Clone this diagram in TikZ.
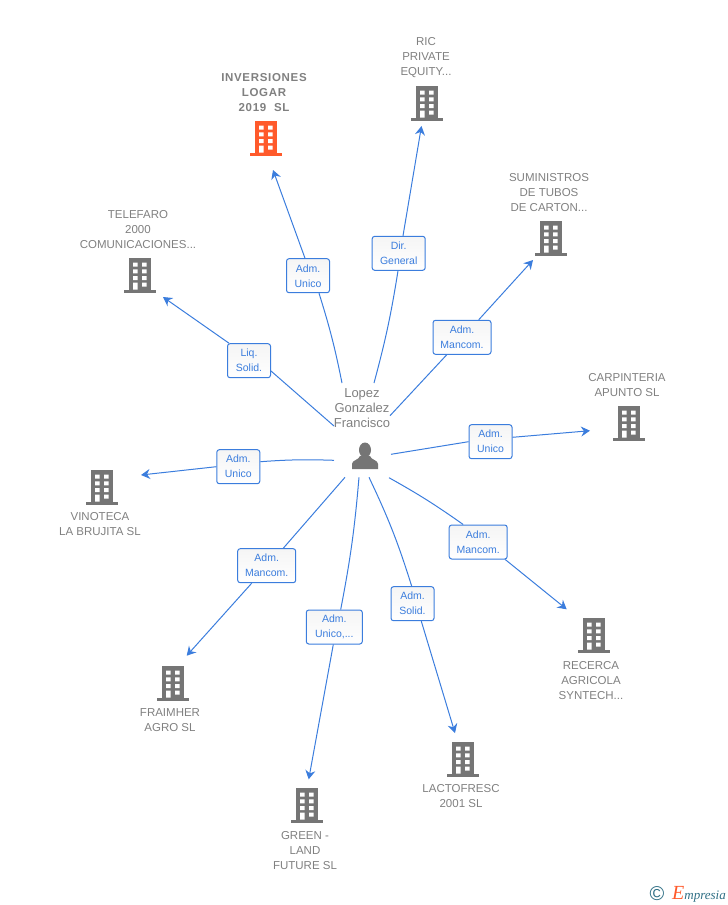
\documentclass[tikz,border=0pt]{standalone}
\usepackage{fontspec}
\setmainfont{Liberation Sans}
\newfontfamily\logofont{Liberation Serif}
\usetikzlibrary{positioning}
\usetikzlibrary{arrows.meta}
\definecolor{myblue}{HTML}{3B7DDD}
\definecolor{mygray}{HTML}{808080}
\definecolor{myicon}{HTML}{757575}
\definecolor{myorange}{HTML}{FF5A2B}
\definecolor{myteal}{HTML}{2F6F85}
\newcommand{\bldgicon}[1]{
  \begin{scope}[shift={(path picture bounding box.center)}]
    \fill[#1] (-11,-17.5) rectangle (11,15);
    \fill[#1] (-16,14.5) rectangle (16,18);
    \fill[white] (-7,-12.5) rectangle (-2.5,-8.5) (2,-12.5) rectangle (6.5,-8.5);
    \fill[white] (-7,-5.7) rectangle (-2.5,-1.7) (2,-5.7) rectangle (6.5,-1.7);
    \fill[white] (-7,1) rectangle (-2.5,5) (2,1) rectangle (6.5,5);
    \fill[white] (-7,7.5) rectangle (-2.5,14.5) (2,7.5) rectangle (6.5,11.5);
  \end{scope}
}
\newcommand{\personicon}{
  \begin{scope}[shift={(path picture bounding box.center)}]
    \fill[myicon] (0,-6) ellipse (6 and 7.5);
    \fill[myicon] (-13,13) -- (-13,8) .. controls (-13,4) and (-6,4) .. (-5,0) -- (5,0) .. controls (6,4) and (13,4) .. (13,8) -- (13,13) -- cycle;
  \end{scope}
}
\tikzset{
    mybldg/.style = {rectangle, fill=white, minimum width=33pt, minimum height=37pt, inner sep=0pt, path picture={\bldgicon{#1}}},
    myperson/.style = {rectangle, fill=white, minimum width=28pt, minimum height=28pt, inner sep=0pt, path picture={\personicon}},
    mycomp/.style = {align=center, inner sep=0pt, text=mygray, font=\fontsize{11.5}{15}\selectfont},
    myname/.style = {align=center, inner sep=0pt, text=mygray, font=\fontsize{13}{15}\selectfont},
    myrole/.style = {rectangle, rounded corners=2.5pt, draw=myblue, top color=black!4, bottom color=white, line width=1pt, align=center, inner sep=0pt, minimum height=34pt, text=myblue, font=\fontsize{10.5}{15}\selectfont},
    edgeb/.style = {-,line width=1pt,myblue},
    edgea/.style = {-{Stealth[length=9pt,width=10pt,inset=3pt]},line width=1pt,myblue}
}
\begin{document}
\begin{tikzpicture}[x=1pt,y=-1pt]
\path[use as bounding box] (0,0) rectangle (728,905);

% companies
\node[mybldg=myorange] at (266,138) (T1) {};
\node[mybldg=myicon] at (427,103) (T2) {};
\node[mybldg=myicon] at (551,238) (T3) {};
\node[mybldg=myicon] at (629,423) (T4) {};
\node[mybldg=myicon] at (594,635) (T5) {};
\node[mybldg=myicon] at (463,759) (T6) {};
\node[mybldg=myicon] at (307,805) (T7) {};
\node[mybldg=myicon] at (173,683) (T8) {};
\node[mybldg=myicon] at (102,487) (T9) {};
\node[mybldg=myicon] at (140,275) (T10) {};
%
\node[mycomp,font=\fontsize{11.5}{15}\selectfont\bfseries\addfontfeature{LetterSpace=6}] at (264,92.5) (C1) {INVERSIONES\\LOGAR\\2019\ \ SL};
\node[mycomp] at (426,58) (C2) {RIC\\PRIVATE\\EQUITY...};
\node[mycomp] at (549,193) (C3) {SUMINISTROS\\DE TUBOS\\DE CARTON...};
\node[mycomp] at (627,385.5) (C4) {CARPINTERIA\\APUNTO SL};
\node[mycomp] at (591,681) (C5) {RECERCA\\AGRICOLA\\SYNTECH...};
\node[mycomp] at (461,796) (C6) {LACTOFRESC\\2001 SL};
\node[mycomp] at (305,851) (C7) {GREEN -\\LAND\\FUTURE SL};
\node[mycomp] at (170,720.5) (C8) {FRAIMHER\\AGRO SL};
\node[mycomp] at (100,524.5) (C9) {VINOTECA\\LA BRUJITA SL};
\node[mycomp] at (138,230) (C10) {TELEFARO\\2000\\COMUNICACIONES...};

% person
\node[myperson] at (365,456) (P) {};
\node[myname] at (362,408) (N) {Lopez\\Gonzalez\\Francisco};

% roles
\node[myrole,minimum width=43pt,text depth=0pt] at (308,275.7) (R1) {Adm.\\Unico};
\node[myrole,minimum width=53pt] at (398.7,253.3) (R2) {Dir.\\General};
\node[myrole,minimum width=58pt] at (462,337.3) (R3) {Adm.\\Mancom.};
\node[myrole,minimum width=43pt] at (490.5,441.7) (R4) {Adm.\\Unico};
\node[myrole,minimum width=58pt] at (478.2,542) (R5) {Adm.\\Mancom.};
\node[myrole,minimum width=43pt] at (412.5,603.7) (R6) {Adm.\\Solid.};
\node[myrole,minimum width=56pt] at (334.3,627) (R7) {Adm.\\Unico,...};
\node[myrole,minimum width=58pt] at (266.7,565.7) (R8) {Adm.\\Mancom.};
\node[myrole,minimum width=43pt] at (238.3,466.7) (R9) {Adm.\\Unico};
\node[myrole,minimum width=43pt] at (249,360.7) (R10) {Liq.\\Solid.};

%
\draw[edgeb] ([shift={(-23,-73)}]P.center) to[bend right=3] ([xshift=11pt]R1.south);
\draw[edgeb] ([shift={(9,-73)}]P.center) to[bend right=3] ([xshift=-0.7pt]R2.south);
\draw[edgeb] ([shift={(25,-40.3)}]P.center) -- ([xshift=-15.3pt]R3.south);
\draw[edgeb] ([shift={(26,-1.7)}]P.center) -- (R4.west);
\draw[edgeb] ([shift={(24,21.7)}]P.center) to[bend left=3] ([xshift=-15pt]R5.north);
\draw[edgeb] ([shift={(4,21.3)}]P.center) to[bend left=4] ([xshift=-0.8pt]R6.north);
\draw[edgeb] ([shift={(-6,21.3)}]P.center) to[bend left=3] ([xshift=6.4pt]R7.north);
\draw[edgeb] ([shift={(-20,21.3)}]P.center) -- ([xshift=16.6pt]R8.north);
\draw[edgeb] ([shift={(-31,4.3)}]P.center) to[bend right=3] ([yshift=5pt]R9.east);
\draw[edgeb] ([shift={(-31,-30)}]P.center) -- ([yshift=-10.3pt]R10.east);
%
\draw[edgea] ([xshift=-3pt]R1.north) -- ([shift={(7,32)}]T1.center);
\draw[edgea] ([xshift=4.3pt]R2.north) -- ([shift={(-5.5,23)}]T2.center);
\draw[edgea] ([xshift=16.7pt]R3.north) -- ([shift={(-18,22)}]T3.center);
\draw[edgea] ([yshift=4.4pt]R4.east) -- ([shift={(-39,7.7)}]T4.center);
\draw[edgea] ([xshift=27pt]R5.south) -- ([shift={(-27.3,-25.7)}]T5.center);
\draw[edgea] ([xshift=8.8pt]R6.south) -- ([shift={(-8,-26)}]T6.center);
\draw[edgea] ([xshift=-1pt]R7.south) -- ([shift={(1.7,-25.7)}]T7.center);
\draw[edgea] ([xshift=-15pt]R8.south) -- ([shift={(13.7,-27.3)}]T8.center);
\draw[edgea] (R9.west) -- ([shift={(39,-12)}]T9.center);
\draw[edgea] ([xshift=-20pt]R10.north) -- ([shift={(23,22)}]T10.center);

% logo
\node[text=myteal,inner sep=0pt,font=\fontsize{20}{20}\selectfont] at (657,894) (LC) {©};
\node[inner sep=0pt,font=\logofont\itshape\fontsize{13}{13}\selectfont,text=myteal] at (699,894) (LE) {{\color{myorange}\fontsize{20}{20}\selectfont E}mpresia};
\end{tikzpicture}
\end{document}
